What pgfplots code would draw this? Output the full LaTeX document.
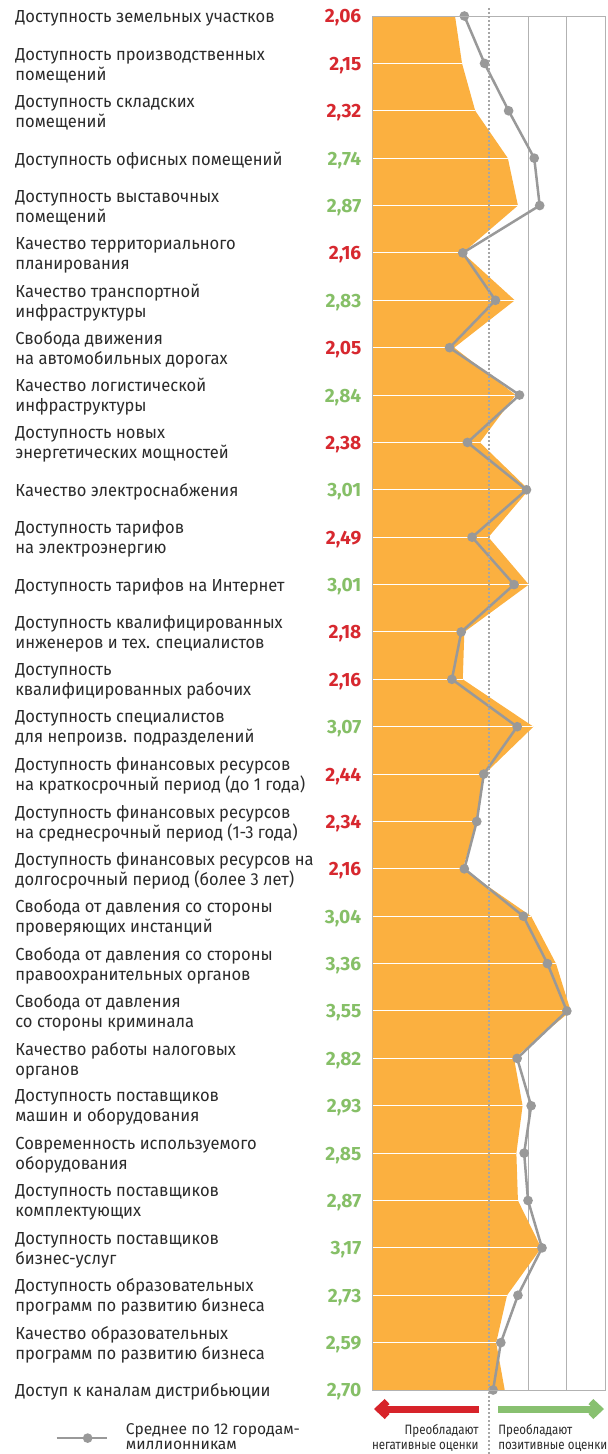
\documentclass[border=0pt]{standalone}
\usepackage{fontspec}
\setmainfont{Fira Sans}
\newfontfamily\labelfamily[FakeStretch=0.95]{Fira Sans}
\newfontfamily\narrowfamily[FakeStretch=0.85]{Fira Sans}
\usepackage{pgfplots}
\pgfplotsset{compat=1.18}
\usepackage{pgfplotstable}
\usetikzlibrary{arrows.meta}

\definecolor{barorange}{HTML}{FBB040}
\definecolor{avggray}{HTML}{999999}
\definecolor{framegray}{HTML}{B2B2B2}
\definecolor{dotgray}{HTML}{A6A6A6}
\definecolor{negred}{HTML}{D7282F}
\definecolor{posgreen}{HTML}{86BF67}
\definecolor{arrowred}{HTML}{D7232A}
\definecolor{arrowgreen}{HTML}{88C070}
\definecolor{labeltext}{HTML}{2B2B2B}

\newcommand\vneg[1]{\textcolor{negred}{#1}}
\newcommand\vpos[1]{\textcolor{posgreen}{#1}}
\newcommand\labelfont{\labelfamily\fontsize{8.7}{10}\selectfont}
\newcommand\valuefont{\fontsize{9.6}{10}\selectfont\bfseries}
\newcommand\notefont{\narrowfamily\fontsize{6.8}{7.5}\selectfont}
\newcommand\legendfont{\fontsize{7.8}{7.8}\selectfont}

% row index, city score, average over the 12 cities
\pgfplotstableread{
row val avg
0  2.06 2.18
1  2.15 2.44
2  2.32 2.75
3  2.74 3.08
4  2.87 3.15
5  2.16 2.16
6  2.83 2.58
7  2.05 1.99
8  2.84 2.89
9  2.38 2.22
10 3.01 2.98
11 2.49 2.28
12 3.01 2.82
13 2.18 2.14
14 2.16 2.02
15 3.07 2.86
16 2.44 2.43
17 2.34 2.34
18 2.16 2.18
19 3.04 2.94
20 3.36 3.25
21 3.55 3.50
22 2.82 2.86
23 2.93 3.04
24 2.85 2.95
25 2.87 3.00
26 3.17 3.18
27 2.73 2.87
28 2.59 2.65
29 2.70 2.55
}\scores

\begin{document}
\begin{tikzpicture}
\path[use as bounding box] (0pt,0pt) rectangle (304pt,-727pt);

% category names and the plot itself
\begin{axis}[
  at={(186.35pt,-8pt)}, anchor=north west,
  scale only axis, width=116.5pt, height=687pt,
  xmin=1, xmax=4, ymin=0, ymax=29, y dir=reverse,
  axis on top, clip mode=individual,
  axis line style={draw=framegray, line width=0.5pt},
  xtick=\empty,
  ytick={0,...,29},
  major tick length=0pt,
  yticklabel style={anchor=west, align=left, inner sep=0pt,
    xshift=-178.85pt, yshift=-1pt, font=\labelfont, text=labeltext},
  yticklabels={
    {Доступность земельных участков},
    {Доступность производственных\\помещений},
    {Доступность складских\\помещений},
    {Доступность офисных помещений},
    {Доступность выставочных\\помещений},
    {Качество территориального\\планирования},
    {Качество транспортной\\инфраструктуры},
    {Свобода движения\\на автомобильных дорогах},
    {Качество логистической\\инфраструктуры},
    {Доступность новых\\энергетических мощностей},
    {Качество электроснабжения},
    {Доступность тарифов\\на электроэнергию},
    {Доступность тарифов на Интернет},
    {Доступность квалифицированных\\инженеров и тех. специалистов},
    {Доступность\\квалифицированных рабочих},
    {Доступность специалистов\\для непроизв. подразделений},
    {Доступность финансовых ресурсов\\на краткосрочный период (до 1 года)},
    {Доступность финансовых ресурсов\\на среднесрочный период (1-3 года)},
    {Доступность финансовых ресурсов на\\долгосрочный период (более 3 лет)},
    {Свобода от давления со стороны\\проверяющих инстанций},
    {Свобода от давления со стороны\\правоохранительных органов},
    {Свобода от давления\\со стороны криминала},
    {Качество работы налоговых\\органов},
    {Доступность поставщиков\\машин и оборудования},
    {Современность используемого\\оборудования},
    {Доступность поставщиков\\комплектующих},
    {Доступность поставщиков\\бизнес-услуг},
    {Доступность образовательных\\программ по развитию бизнеса},
    {Качество образовательных\\программ по развитию бизнеса},
    {Доступ к каналам дистрибьюции}},
  legend style={at={(axis description cs:-1.3635,-0.0350)}, anchor=west,
    draw=none, fill=none, inner sep=0pt,
    nodes={inner sep=0pt, align=left, font=\legendfont, text=labeltext},
    /tikz/every odd column/.style={column sep=9pt}},
  legend image code/.code={
    \draw[avggray, line width=1.25pt] (0pt,0pt) -- (25pt,0pt);
    \fill[avggray] (15.5pt,0pt) circle[radius=1.75pt];},
]
  \draw[framegray, line width=0.5pt] (axis cs:3,0) -- (axis cs:3,29);
  \draw[framegray, line width=0.5pt] (axis cs:3.5,0) -- (axis cs:3.5,29);
  \addplot[fill=barorange, draw=none, forget plot]
    table[x=val, y=row] {\scores} -- (axis cs:1,29) -- (axis cs:1,0) -- cycle;
  \addplot[xcomb, white, line width=0.5pt, forget plot]
    table[x=val, y=row] {\scores};
  \coordinate (mid) at (axis cs:2.5,0);
  \addplot[avggray, line width=1.25pt, mark=*, mark size=1.75pt,
    mark options={fill=avggray, draw=avggray}]
    table[x=avg, y=row] {\scores};
  \addlegendentry{Среднее по 12 городам-\\миллионникам}
\end{axis}

% score values beside the names
\begin{axis}[
  at={(186.35pt,-8pt)}, anchor=north west,
  scale only axis, width=116.5pt, height=687pt,
  xmin=1, xmax=4, ymin=0, ymax=29, y dir=reverse,
  axis line style={draw=none},
  xtick=\empty,
  ytick={0,...,29},
  major tick length=0pt,
  yticklabel style={anchor=east, inner sep=0pt, xshift=-5.5pt, yshift=-1pt,
    font=\valuefont},
  yticklabels={
    {\vneg{2,06}},{\vneg{2,15}},{\vneg{2,32}},{\vpos{2,74}},{\vpos{2,87}},
    {\vneg{2,16}},{\vpos{2,83}},{\vneg{2,05}},{\vpos{2,84}},{\vneg{2,38}},
    {\vpos{3,01}},{\vneg{2,49}},{\vpos{3,01}},{\vneg{2,18}},{\vneg{2,16}},
    {\vpos{3,07}},{\vneg{2,44}},{\vneg{2,34}},{\vneg{2,16}},{\vpos{3,04}},
    {\vpos{3,36}},{\vpos{3,55}},{\vpos{2,82}},{\vpos{2,93}},{\vpos{2,85}},
    {\vpos{2,87}},{\vpos{3,17}},{\vpos{2,73}},{\vpos{2,59}},{\vpos{2,70}}},
]
\end{axis}

% neutral line at 2.5
\draw[dotgray, line width=1pt, dash pattern=on 1pt off 1pt]
  (mid |- 0,-4pt) -- (mid |- 0,-727pt);

\begin{scope}[x=0.5pt, y=-0.5pt]
  \draw[arrowred, line width=3.5pt, -{Straight Barb[length=4pt, width=7.5pt]}]
    (479,1409) -- (374,1409);
  \draw[arrowgreen, line width=3.5pt, -{Straight Barb[length=4pt, width=7.5pt]}]
    (498,1409) -- (604,1409);
  \node[anchor=north east, align=right, inner sep=0pt, font=\notefont,
    text=labeltext] at (479,1424) {Преобладают\\негативные оценки};
  \node[anchor=north west, align=left, inner sep=0pt, font=\notefont,
    text=labeltext] at (498,1424) {Преобладают\\позитивные оценки};
\end{scope}
\end{tikzpicture}
\end{document}
